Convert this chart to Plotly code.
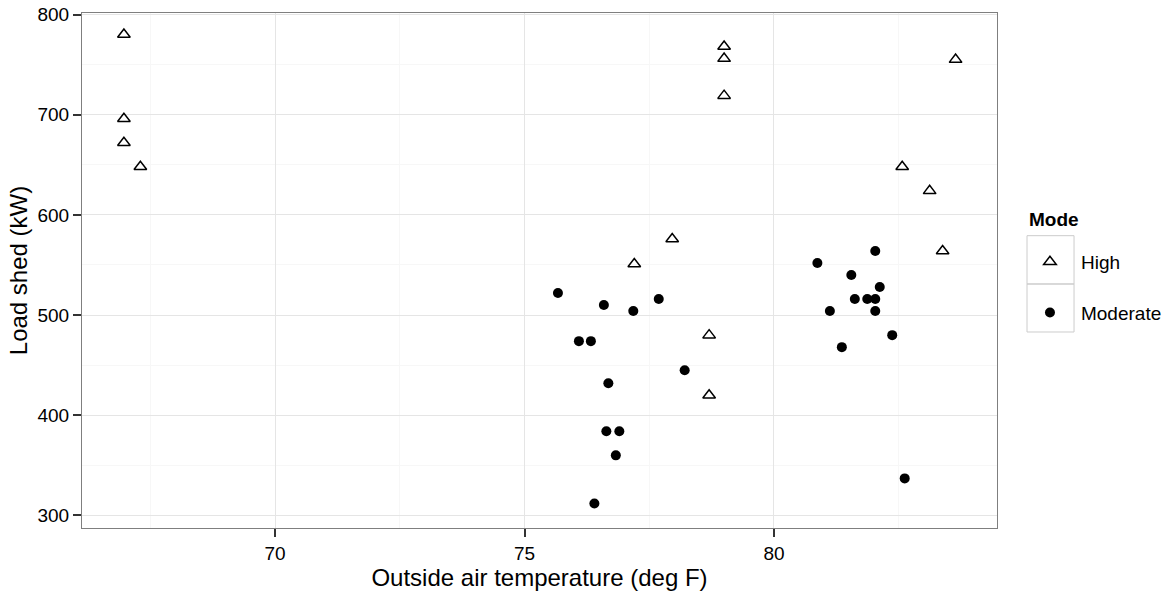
import plotly.graph_objects as go

# Data
high_temp = [66.97, 66.97, 66.97, 67.30, 79.0, 79.0, 79.0, 83.64, 82.57, 83.12, 83.38, 77.2, 78.7, 78.7, 77.96]
high_load = [780, 696, 672, 648, 768, 756, 719, 755, 648, 624, 564, 551, 480, 420, 576]

moderate_temp = [75.67, 76.59, 77.18, 77.69, 76.09, 76.33, 78.21, 76.68, 76.64, 76.90, 76.83, 76.40,
                 82.03, 80.87, 81.55, 82.12, 81.62, 81.87, 82.03, 81.12, 82.03, 82.37, 81.36, 82.62]
moderate_load = [522, 510, 504, 516, 474, 474, 445, 432, 384, 384, 360, 312,
                 564, 552, 540, 528, 516, 516, 516, 504, 504, 480, 468, 337]

x_ticks = [70, 75, 80]
y_ticks = [300, 400, 500, 600, 700, 800]

FONT = "Liberation Sans, Arial, sans-serif"

fig = go.Figure()
fig.add_trace(go.Scatter(
    x=high_temp, y=high_load, mode="markers", name="High", legendgroup="a",
    marker=dict(symbol="triangle-up-open", size=11, color="black", line=dict(width=1.5, color="black")),
))
fig.add_trace(go.Scatter(
    x=moderate_temp, y=moderate_load, mode="markers", name="Moderate", legendgroup="b",
    marker=dict(symbol="circle", size=10, color="black", line=dict(width=0)),
))

axis_common = dict(
    showline=True, mirror=True, linecolor="#7f7f7f", linewidth=1,
    ticks="outside", ticklen=8, tickwidth=1.5, tickcolor="#333333",
    showgrid=True, gridcolor="#e5e5e5", gridwidth=1.2,
    zeroline=False, automargin=False,
    tickfont=dict(family=FONT, size=19, color="black"),
    title_font=dict(family=FONT, size=24, color="black"),
)

fig.update_xaxes(
    range=[66.13, 84.47], tickvals=x_ticks,
    minor=dict(dtick=2.5, tick0=0, showgrid=True, gridcolor="#f7f7f7", ticks=""),
    title_text="Outside air temperature (deg F)", title_standoff=6,
    **axis_common,
)
fig.update_yaxes(
    range=[287.5, 801.5], tickvals=y_ticks,
    minor=dict(dtick=50, tick0=0, showgrid=True, gridcolor="#f7f7f7", ticks=""),
    title_text="Load shed (kW)", title_standoff=3,
    **axis_common,
)

# legend key boxes (ggplot style)
for y0, y1 in [(0.5676, 0.4738), (0.4738, 0.3806)]:
    fig.add_shape(type="rect", xref="paper", yref="paper", x0=1.0328, x1=1.0842, y0=y1, y1=y0,
                  line=dict(color="#cccccc", width=1), fillcolor="rgba(0,0,0,0)", layer="below")

fig.add_annotation(text="<b>Mode</b>", xref="paper", yref="paper", x=1.0328, y=0.60,
                   xanchor="left", yanchor="middle", showarrow=False,
                   font=dict(family=FONT, size=19, color="black"))

fig.update_layout(
    width=1170, height=597,
    margin=dict(l=82, r=173, t=13, b=69, autoexpand=False),
    plot_bgcolor="white", paper_bgcolor="white",
    font=dict(family=FONT, color="black"),
    legend=dict(
        x=1.024, xanchor="left", y=0.5534, yanchor="top",
        font=dict(family=FONT, size=19),
        itemwidth=52, tracegroupgap=23, traceorder="grouped",
        bgcolor="rgba(0,0,0,0)",
    ),
)

fig.write_html("out.html", config={"displayModeBar": False},
               post_script="document.body.style.margin='0px';")
